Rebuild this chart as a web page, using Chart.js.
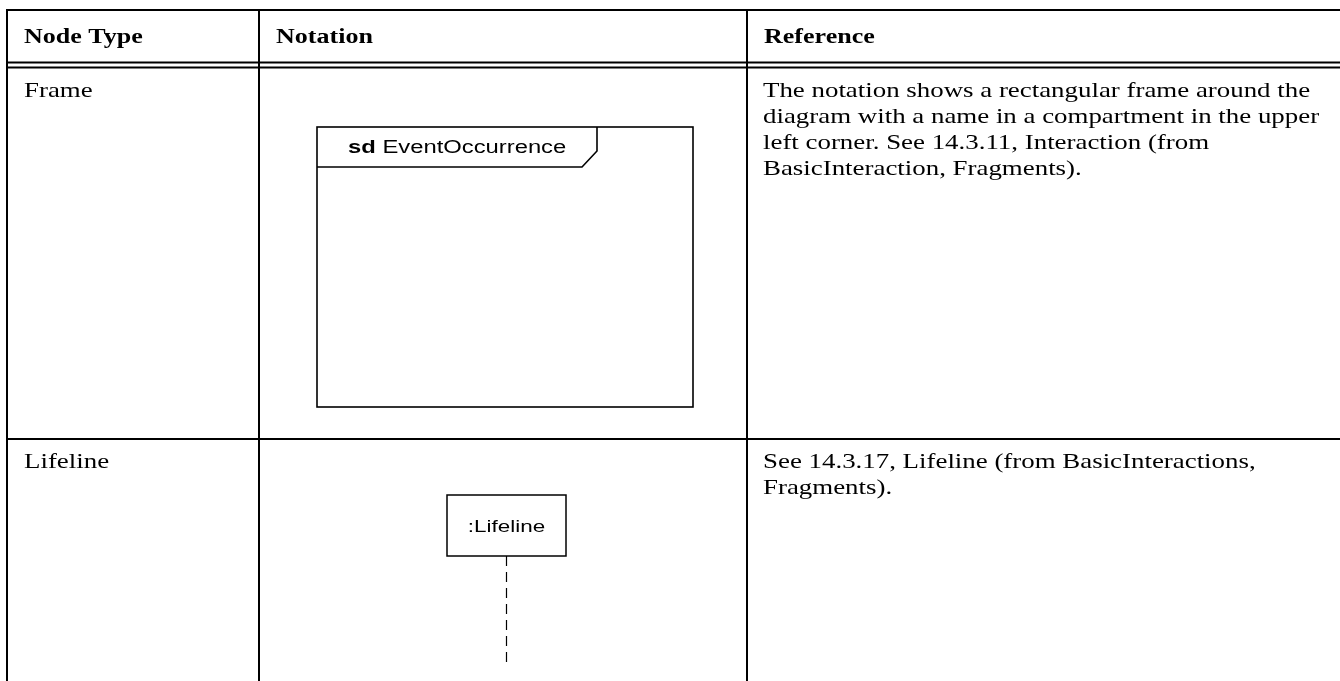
<!DOCTYPE html>
<html>
<head>
<meta charset="utf-8">
<script src="https://cdn.jsdelivr.net/npm/chart.js@4.4.1/dist/chart.umd.min.js"></script>
<style>
  html, body { margin: 0; padding: 0; background: #ffffff; }
  #wrap { width: 1340px; height: 681px; position: relative; }
</style>
</head>
<body>
<div id="wrap"><canvas id="c" width="1340" height="681"></canvas></div>
<script>
// ---- table content ----
const headers = ['Node Type', 'Notation', 'Reference'];
const nodeTypes = ['Frame', 'Lifeline'];
const frameKeyword = 'sd';
const frameName = 'EventOccurrence';
const lifelineName = ':Lifeline';
const referenceFrame = [
  'The notation shows a rectangular frame around the',
  'diagram with a name in a compartment in the upper',
  'left corner. See 14.3.11, Interaction (from',
  'BasicInteraction, Fragments).'
];
const referenceLifeline = [
  'See 14.3.17, Lifeline (from BasicInteractions,',
  'Fragments).'
];
const references = [referenceFrame, referenceLifeline];

// ---- layout (pixels) ----
const SX_SERIF = 1.28;           // horizontal stretch of the serif glyphs
const SX_HEAD = 1.27;
const SX_SANS = 1.36;            // horizontal stretch of the sans glyphs
const colX = [7, 259, 747];
const topY = 10, headLine1 = 62.5, headLine2 = 67.5, rowSep = 439;
const rowTop = [headLine2, rowSep];
const SERIF = '"Liberation Serif", "Times New Roman", serif';
const SANS = '"Liberation Sans", Arial, sans-serif';

function stretchedText(ctx, text, x, y, font, sx, weight) {
  ctx.save();
  ctx.font = font;
  ctx.translate(x, y);
  ctx.scale(sx, 1);
  ctx.fillText(text, 0, 0);
  if (weight) { ctx.lineWidth = weight; ctx.strokeText(text, 0, 0); }
  const w = ctx.measureText(text).width * sx;
  ctx.restore();
  return w;
}

const tablePlugin = {
  id: 'umlTable',
  afterDraw(chart) {
    const ctx = chart.ctx;
    const xs = chart.scales.x, ys = chart.scales.y;
    const px = v => xs.getPixelForValue(v);
    const py = v => ys.getPixelForValue(v);
    const W = px(1340), H = py(681);
    ctx.save();
    ctx.fillStyle = '#000';
    ctx.strokeStyle = '#000';
    ctx.textBaseline = 'alphabetic';

    // grid lines
    const hline = (y, lw) => { ctx.lineWidth = lw; ctx.beginPath(); ctx.moveTo(px(colX[0]) - 1, py(y)); ctx.lineTo(W, py(y)); ctx.stroke(); };
    hline(topY, 2);
    hline(headLine1, 2);
    hline(headLine2, 2);
    hline(rowSep, 2);
    colX.forEach(x => {
      ctx.lineWidth = 2;
      ctx.beginPath(); ctx.moveTo(px(x), py(topY) - 1); ctx.lineTo(px(x), H); ctx.stroke();
    });

    // headers
    headers.forEach((h, i) => stretchedText(ctx, h, px(colX[i] + 17), py(42.5), 'bold 20.5px ' + SERIF, SX_HEAD, 0));

    // node type and references
    nodeTypes.forEach((n, r) => {
      const base = rowTop[r] + 29;
      stretchedText(ctx, n, px(colX[0] + 17), py(base), '21px ' + SERIF, SX_SERIF, 0);
      references[r].forEach((line, k) => {
        stretchedText(ctx, line, px(colX[2] + 16), py(base + k * 26), '21px ' + SERIF, SX_SERIF, 0);
      });
    });

    // ---- Frame notation ----
    ctx.lineWidth = 1.6;
    const fl = px(317), ft = py(127), fr = px(693), fb = py(407);
    ctx.strokeRect(fl, ft, fr - fl, fb - ft);
    ctx.beginPath();
    ctx.moveTo(px(597), ft);
    ctx.lineTo(px(597), py(151));
    ctx.lineTo(px(582), py(167));
    ctx.lineTo(fl, py(167));
    ctx.stroke();
    const wsd = stretchedText(ctx, frameKeyword + ' ', px(348), py(153), 'bold 17.5px ' + SANS, SX_SANS, 0);
    stretchedText(ctx, frameName, px(348) + wsd, py(153), '17.5px ' + SANS, SX_SANS, 0);

    // ---- Lifeline notation ----
    const ll = px(447), lt = py(495), lr = px(566), lb = py(556);
    ctx.lineWidth = 1.5;
    ctx.strokeRect(ll, lt, lr - ll, lb - lt);
    ctx.save();
    ctx.font = '16.5px ' + SANS;
    const tw = ctx.measureText(lifelineName).width * SX_SANS;
    ctx.restore();
    stretchedText(ctx, lifelineName, px(506.5) - tw / 2, py(532), '16.5px ' + SANS, SX_SANS, 0);
    ctx.lineWidth = 1.2;
    ctx.setLineDash([10, 6]);
    ctx.beginPath();
    ctx.moveTo(px(506.5), lb);
    ctx.lineTo(px(506.5), py(663));
    ctx.stroke();
    ctx.setLineDash([]);
    ctx.restore();
  }
};

new Chart(document.getElementById('c'), {
  type: 'scatter',
  data: { datasets: [{ data: [], pointRadius: 0 }] },
  options: {
    responsive: false,
    animation: false,
    devicePixelRatio: 1,
    layout: { padding: 0 },
    plugins: { legend: { display: false }, tooltip: { enabled: false }, title: { display: false } },
    scales: {
      x: { type: 'linear', min: 0, max: 1340, display: false },
      y: { type: 'linear', min: 0, max: 681, reverse: true, display: false }
    }
  },
  plugins: [tablePlugin]
});
</script>
</body>
</html>
